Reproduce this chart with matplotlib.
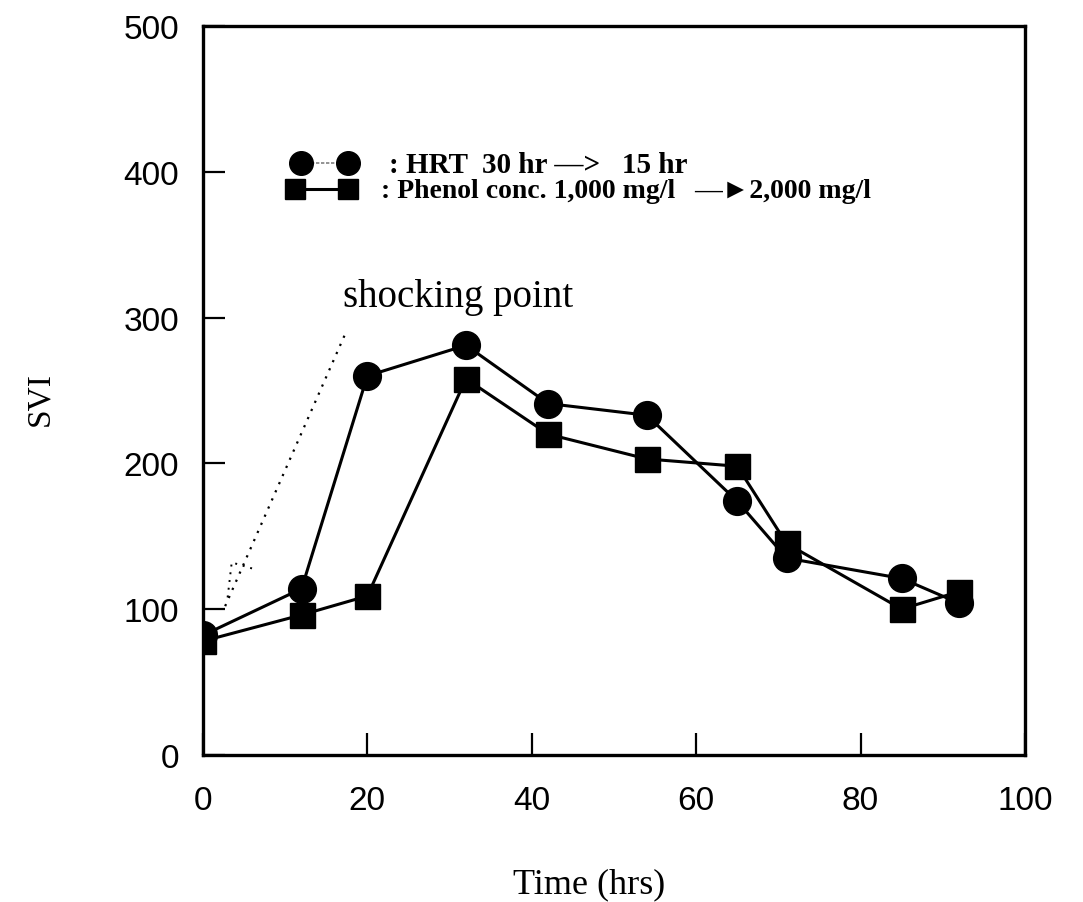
import matplotlib
matplotlib.use('Agg')
import matplotlib.pyplot as plt

# data
time_hrs = [0, 12, 20, 32, 42, 54, 65, 71, 85, 92]
svi_hrt = [82, 114, 260, 281, 241, 233, 174, 135, 121, 104]
svi_phenol = [78, 96, 109, 258, 220, 203, 198, 145, 100, 112]

x_ticks = [0, 20, 40, 60, 80, 100]
y_ticks = [0, 100, 200, 300, 400, 500]

legend_hrt = ': HRT  30 hr —>   15 hr'
legend_phenol = ': Phenol conc. 1,000 mg/l'
legend_phenol2 = '—►2,000 mg/l'
shock_label = 'shocking point'

serif = ['Liberation Serif', 'DejaVu Serif', 'DejaVu Sans']
plt.rcParams['font.family'] = ['Liberation Sans', 'DejaVu Sans']

fig = plt.figure(figsize=(10.83, 9.03), dpi=100)
ax = fig.add_axes([0.1874, 0.163, 0.759, 0.807])

ax.plot(time_hrs, svi_hrt, color='black', lw=2.2, marker='o', markersize=20,
        markerfacecolor='black', markeredgecolor='black', zorder=3)
ax.plot(time_hrs, svi_phenol, color='black', lw=2.2, marker='s', markersize=18,
        markerfacecolor='black', markeredgecolor='black', zorder=3)

# dotted pointer to the shock
ax.plot([2.7, 17.4], [102, 290], color='black', lw=1.6, linestyle=(0, (1, 3)))
ax.plot([3.0, 3.5, 6.5], [108, 132, 127], color='black', lw=1.4, linestyle=(0, (1, 3)))
ax.text(17.0, 308, shock_label, family=serif, fontsize=28, ha='left', va='baseline')

# hand drawn legend
ax.plot([11.9, 17.7], [406, 406], color='gray', lw=1.2, linestyle=(0, (2, 1)))
ax.plot([11.9, 17.7], [406, 406], color='black', lw=0, marker='o', markersize=17)
ax.text(22.6, 405, legend_hrt, family=serif, fontsize=21, weight='bold',
        ha='left', va='center')
ax.plot([11.2, 17.7], [388, 388], color='black', lw=2.2, marker='s', markersize=15)
ax.text(21.6, 387, legend_phenol, family=serif, fontsize=20, weight='bold',
        ha='left', va='center')
ax.text(59.8, 387, legend_phenol2, family=serif, fontsize=20, weight='bold',
        ha='left', va='center')

ax.set_xlim(0, 100)
ax.set_ylim(0, 500)
ax.set_xticks(x_ticks)
ax.set_yticks(y_ticks)
ax.tick_params(axis='both', direction='in', length=16, width=1.6, labelsize=24)
ax.tick_params(axis='x', pad=22)
ax.tick_params(axis='y', pad=17)
for s in ax.spines.values():
    s.set_linewidth(2.4)

ax.set_xlabel('Time (hrs)', family=serif, fontsize=26)
ax.xaxis.set_label_coords(0.47, -0.155)
ax.set_ylabel('SVI', family=serif, fontsize=24)
ax.yaxis.set_label_coords(-0.18, 0.49)

plt.savefig('out.png', dpi=100)
plt.close('all')
